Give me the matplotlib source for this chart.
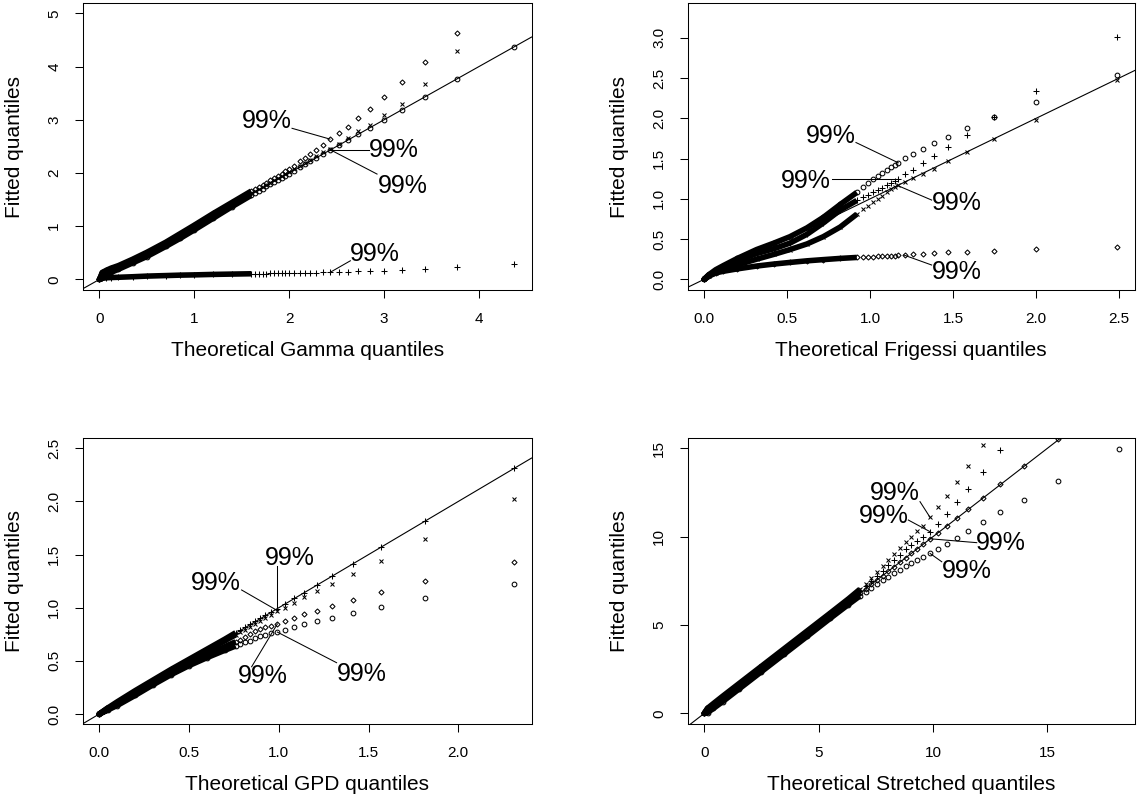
import matplotlib
matplotlib.use("Agg")
import matplotlib.pyplot as plt
import numpy as np

plt.rcParams['font.family'] = ['Liberation Sans', 'DejaVu Sans']

# ---------------- Gamma panel (top left) ----------------
# theoretical quantiles: dense body, then the sparse points, then the tail past 99%
gamma_q = [0.0, 0.03, 0.07, 0.12, 0.2, 0.35, 0.5, 0.7, 0.85, 1.0, 1.2, 1.4, 1.6,
           1.64, 1.68, 1.72, 1.76, 1.80, 1.84, 1.88, 1.92, 1.96, 2.00, 2.05, 2.117, 2.167, 2.223, 2.286, 2.356,
           2.43, 2.52, 2.62, 2.73, 2.85, 3.00, 3.19, 3.43, 3.77, 4.37]
gamma_circle = [0.0, 0.05, 0.09, 0.13, 0.19, 0.31, 0.43, 0.62, 0.77, 0.93, 1.15, 1.37, 1.58,
                1.62, 1.66, 1.70, 1.75, 1.79, 1.83, 1.87, 1.91, 1.95, 1.99, 2.04, 2.11, 2.16, 2.22, 2.28, 2.35,
                2.44, 2.52, 2.62, 2.73, 2.85, 3.00, 3.19, 3.43, 3.77, 4.37]
gamma_cross = [0.0, 0.08, 0.12, 0.16, 0.22, 0.34, 0.47, 0.66, 0.81, 0.97, 1.19, 1.41, 1.62,
               1.66, 1.70, 1.74, 1.78, 1.82, 1.86, 1.90, 1.94, 1.98, 2.02, 2.07, 2.14, 2.19, 2.25, 2.32, 2.39,
               2.455, 2.54, 2.66, 2.79, 2.91, 3.09, 3.29, 3.67, 4.30, None]
gamma_diamond = [0.0, 0.13, 0.17, 0.21, 0.26, 0.38, 0.51, 0.70, 0.86, 1.02, 1.24, 1.45, 1.66,
                 1.70, 1.74, 1.78, 1.82, 1.87, 1.91, 1.95, 1.99, 2.03, 2.08, 2.13, 2.218, 2.28, 2.355, 2.436, 2.53,
                 2.637, 2.744, 2.869, 3.026, 3.207, 3.433, 3.709, 4.085, 4.636, None]
gamma_plus = [0.0, 0.02, 0.03, 0.035, 0.04, 0.05, 0.062, 0.072, 0.08, 0.085, 0.094, 0.1, 0.106,
              0.107, 0.108, 0.109, 0.11, 0.111, 0.112, 0.113, 0.114, 0.115, 0.116, 0.118, 0.12, 0.122, 0.125, 0.128, 0.13,
              0.131, 0.137, 0.143, 0.15, 0.157, 0.165, 0.18, 0.2, 0.232, 0.282]

# ---------------- Frigessi panel (top right) ----------------
frig_q = [0.0, 0.03, 0.07, 0.115, 0.2, 0.316, 0.42, 0.517, 0.62, 0.718, 0.82, 0.92,
          0.96, 0.99, 1.02, 1.045, 1.07, 1.10, 1.125, 1.148,
          1.17, 1.21, 1.261, 1.317, 1.383, 1.472, 1.586, 1.747, 1.998, 2.49]
frig_circle = [0.0, 0.06, 0.12, 0.17, 0.26, 0.37, 0.45, 0.53, 0.64, 0.77, 0.93, 1.08,
               1.15, 1.20, 1.25, 1.29, 1.32, 1.36, 1.39, 1.42,
               1.448, 1.502, 1.556, 1.618, 1.689, 1.771, 1.875, 2.011, 2.205, 2.537]
frig_plus = [0.0, 0.05, 0.1, 0.15, 0.23, 0.32, 0.38, 0.45, 0.56, 0.70, 0.86, 0.98,
             1.02, 1.05, 1.08, 1.11, 1.14, 1.17, 1.20, 1.22,
             1.242, 1.304, 1.361, 1.44, 1.531, 1.647, 1.792, 2.011, 2.338, 3.013]
frig_cross = [0.0, 0.04, 0.08, 0.12, 0.18, 0.25, 0.31, 0.37, 0.44, 0.53, 0.65, 0.81,
              0.87, 0.91, 0.96, 1.0, 1.04, 1.08, 1.12, 1.15,
              1.171, 1.205, 1.255, 1.31, 1.375, 1.465, 1.578, 1.738, 1.985, 2.48]
frig_diamond = [0.0, 0.05, 0.08, 0.10, 0.13, 0.165, 0.19, 0.21, 0.23, 0.245, 0.26, 0.272,
                0.276, 0.279, 0.282, 0.285, 0.288, 0.291, 0.293, 0.296,
                0.298, 0.302, 0.31, 0.318, 0.327, 0.335, 0.343, 0.355, 0.372, 0.405]

# ---------------- GPD panel (bottom left) ----------------
gpd_q = [0.0, 0.05, 0.1, 0.2, 0.3, 0.4, 0.5, 0.6, 0.7, 0.76,
         0.785, 0.81, 0.84, 0.87, 0.895, 0.923, 0.955,
         0.992, 1.036, 1.087, 1.142, 1.211, 1.298, 1.411, 1.569, 1.815, 2.309]
gpd_plus = [0.0, 0.06, 0.115, 0.22, 0.32, 0.42, 0.515, 0.61, 0.705, 0.765,
            0.79, 0.815, 0.845, 0.875, 0.9, 0.928, 0.958,
            0.985, 1.036, 1.087, 1.142, 1.211, 1.298, 1.411, 1.569, 1.815, 2.311]
gpd_cross = [0.0, 0.05, 0.1, 0.2, 0.3, 0.4, 0.5, 0.595, 0.69, 0.745,
             0.77, 0.795, 0.822, 0.85, 0.875, 0.9, 0.935,
             0.97, 1.0, 1.047, 1.098, 1.157, 1.226, 1.317, 1.442, 1.643, 2.023]
gpd_diamond = [0.0, 0.045, 0.09, 0.185, 0.285, 0.38, 0.47, 0.555, 0.635, 0.68,
               0.70, 0.725, 0.75, 0.78, 0.80, 0.815, 0.83,
               0.847, 0.875, 0.9, 0.938, 0.972, 1.019, 1.072, 1.148, 1.251, 1.433]
gpd_circle = [0.0, 0.04, 0.08, 0.175, 0.275, 0.37, 0.455, 0.53, 0.60, 0.64,
              0.66, 0.675, 0.69, 0.715, 0.73, 0.745, 0.758,
              0.771, 0.793, 0.816, 0.844, 0.872, 0.906, 0.953, 1.01, 1.088, 1.226]

# ---------------- Stretched panel (bottom right) ----------------
str_q = [0.0, 0.15, 0.4, 0.8, 1.5, 2.5, 3.5, 4.5, 5.5, 6.3, 6.8,
         7.05, 7.3, 7.55, 7.8, 8.05, 8.3, 8.55, 8.8, 9.05, 9.3, 9.58,
         9.87, 10.2, 10.6, 11.04, 11.54, 12.17, 12.94, 13.98, 15.45, 18.13]
str_diamond = [0.0, 0.15, 0.4, 0.8, 1.5, 2.5, 3.5, 4.5, 5.5, 6.3, 6.8,
               7.05, 7.3, 7.55, 7.8, 8.05, 8.3, 8.55, 8.8, 9.05, 9.3, 9.6,
               9.88, 10.22, 10.6, 11.05, 11.56, 12.2, 12.99, 14.01, 15.5, None]
str_circle = [0.0, 0.05, 0.28, 0.66, 1.36, 2.36, 3.36, 4.36, 5.37, 6.16, 6.64,
              6.86, 7.08, 7.3, 7.52, 7.74, 7.94, 8.13, 8.32, 8.5, 8.68, 8.87,
              9.05, 9.32, 9.6, 9.94, 10.33, 10.81, 11.38, 12.09, 13.15, 14.94]
str_plus = [0.0, 0.22, 0.48, 0.9, 1.6, 2.6, 3.6, 4.6, 5.6, 6.4, 6.92,
            7.2, 7.48, 7.78, 8.08, 8.38, 8.68, 8.98, 9.28, 9.55, 9.77, 9.98,
            10.28, 10.71, 11.26, 11.94, 12.69, 13.64, 14.92, None, None, None]
str_cross = [0.0, 0.3, 0.56, 0.97, 1.67, 2.67, 3.67, 4.67, 5.67, 6.48, 7.02,
             7.33, 7.65, 7.98, 8.32, 8.66, 9.0, 9.33, 9.67, 10.0, 10.3, 10.62,
             11.09, 11.66, 12.3, 13.07, 14.01, 15.18, None, None, None, None]

# "99%" labels: text position, then leader from (x0, y0) to the 99% point (x1, y1)
gamma_notes = [(1.766, 2.976, 2.03, 2.84, 2.43, 2.637),
               (3.10, 2.43, 2.84, 2.44, 2.43, 2.44),
               (3.20, 1.76, 2.926, 1.98, 2.43, 2.44),
               (2.90, 0.47, 2.645, 0.35, 2.43, 0.131)]
frig_notes = [(0.762, 1.783, 0.915, 1.70, 1.17, 1.448),
              (0.614, 1.225, 0.768, 1.242, 1.17, 1.242),
              (1.522, 0.944, 1.371, 0.985, 1.16, 1.171),
              (1.522, 0.087, 1.371, 0.178, 1.204, 0.302)]
gpd_notes = [(1.062, 1.465, 0.992, 1.392, 0.992, 0.985),
             (0.65, 1.235, 0.793, 1.167, 0.98, 0.985),
             (0.912, 0.357, 0.849, 0.445, 0.992, 0.847),
             (1.462, 0.376, 1.322, 0.483, 0.992, 0.771)]
str_notes = [(8.34, 12.49, 9.43, 11.98, 9.87, 11.09),
             (7.83, 11.17, 8.92, 10.94, 9.87, 10.28),
             (12.97, 9.66, 11.91, 9.66, 9.87, 9.88),
             (11.47, 8.05, 10.38, 8.58, 9.87, 9.05)]

panels = [
    dict(q=gamma_q, n_dense=13, name="Gamma",
         series=[(gamma_circle, 'o'), (gamma_cross, 'x'), (gamma_diamond, 'D'), (gamma_plus, '+')],
         notes=gamma_notes, xlim=(-0.175, 4.555), ylim=(-0.2, 5.19),
         xticks=[0, 1, 2, 3, 4], yticks=[0, 1, 2, 3, 4, 5], fmt="{:.0f}",
         rect=[0.0729, 0.6379, 0.3946, 0.3580]),
    dict(q=frig_q, n_dense=12, name="Frigessi",
         series=[(frig_circle, 'o'), (frig_plus, '+'), (frig_cross, 'x'), (frig_diamond, 'D')],
         notes=frig_notes, xlim=(-0.1, 2.597), ylim=(-0.133, 3.43),
         xticks=[0, 0.5, 1.0, 1.5, 2.0, 2.5], yticks=[0, 0.5, 1.0, 1.5, 2.0, 2.5, 3.0], fmt="{:.1f}",
         rect=[0.6047, 0.6379, 0.3936, 0.3580]),
    dict(q=gpd_q, n_dense=10, name="GPD",
         series=[(gpd_plus, '+'), (gpd_cross, 'x'), (gpd_diamond, 'D'), (gpd_circle, 'o')],
         notes=gpd_notes, xlim=(-0.091, 2.408), ylim=(-0.094, 2.6),
         xticks=[0, 0.5, 1.0, 1.5, 2.0], yticks=[0, 0.5, 1.0, 1.5, 2.0, 2.5], fmt="{:.1f}",
         rect=[0.0729, 0.0961, 0.3946, 0.3575]),
    dict(q=str_q, n_dense=11, name="Stretched",
         series=[(str_diamond, 'D'), (str_circle, 'o'), (str_plus, '+'), (str_cross, 'x')],
         notes=str_notes, xlim=(-0.73, 18.83), ylim=(-0.6, 15.6),
         xticks=[0, 5, 10, 15], yticks=[0, 5, 10, 15], fmt="{:.0f}",
         rect=[0.6047, 0.0961, 0.3936, 0.3575]),
]

marker_size = {'o': 3.4, 'D': 2.6, '+': 3.8, 'x': 3.2}

fig = plt.figure(figsize=(11.37, 8.01), dpi=100)

for p in panels:
    ax = fig.add_axes(p['rect'])
    q = np.array(p['q'], dtype=float)
    nd = p['n_dense']

    # reference line y = x
    ax.axline((0, 0), slope=1, color='black', lw=0.8, zorder=1)

    for ys, m in p['series']:
        y = np.array([np.nan if v is None else v for v in ys], dtype=float)
        # dense body of overlapping points shows as a solid band;
        # flat end where it runs into the separate points, round blob at the origin
        ax.plot(q[:nd], y[:nd], color='black', lw=4.0, solid_capstyle='butt',
                solid_joinstyle='round', zorder=2)
        ax.plot(q[:2], y[:2], color='black', lw=4.0, solid_capstyle='round', zorder=2)
        ax.plot(q, y, ls='none', marker=m, ms=marker_size[m], mfc='none',
                mec='black', mew=0.75, zorder=3)

    for tx, ty, x0, y0, x1, y1 in p['notes']:
        ax.plot([x0, x1], [y0, y1], color='black', lw=0.75, zorder=4)
        ax.text(tx, ty, "99%", fontsize=18, ha='center', va='center', zorder=5)

    ax.set_xlim(p['xlim'])
    ax.set_ylim(p['ylim'])
    ax.set_xticks(p['xticks'])
    ax.set_yticks(p['yticks'])
    ax.set_xticklabels([p['fmt'].format(v) for v in p['xticks']])
    ax.set_yticklabels([p['fmt'].format(v) for v in p['yticks']], rotation=90, va='center')
    ax.tick_params(direction='out', length=5.5, width=0.75, pad=10, labelsize=11)
    for s in ax.spines.values():
        s.set_linewidth(0.75)

    ax.set_xlabel("Theoretical %s quantiles" % p['name'], fontsize=15)
    ax.set_ylabel("Fitted quantiles", fontsize=15)
    w_px = p['rect'][2] * 1137
    h_px = p['rect'][3] * 801
    ax.xaxis.set_label_coords(0.5, -60 / h_px)
    ax.xaxis.label.set_verticalalignment('center')
    ax.yaxis.set_label_coords(-68 / w_px, 0.5)
    ax.yaxis.label.set_verticalalignment('center')

fig.savefig("out.png", dpi=100)
